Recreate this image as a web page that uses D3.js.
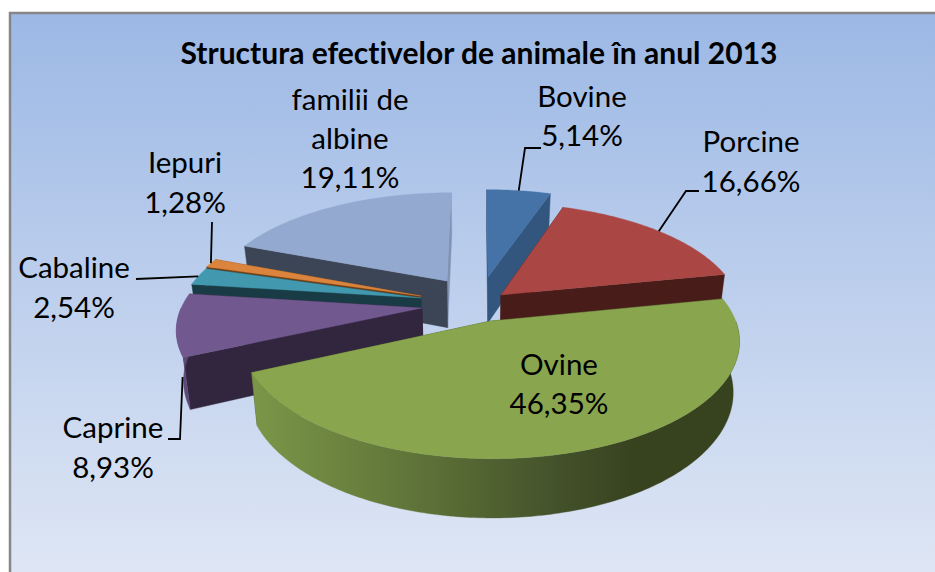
<!DOCTYPE html>
<html><head><meta charset="utf-8">
<script src="https://cdn.jsdelivr.net/npm/d3@7"></script>
<style>html,body{margin:0;padding:0;background:#fff}svg{display:block}text{font-family:Lato,"Open Sans",sans-serif;fill:#000;font-variant-ligatures:none}</style>
</head><body><div id="c"></div>
<script>
const title = "Structura efectivelor de animale în anul 2013";
const categories = ["Bovine","Porcine","Ovine","Caprine","Cabaline","Iepuri","familii de albine"];
const values = [5.14,16.66,46.35,8.93,2.54,1.28,19.11];
const topColors = ["#4572A7","#AA4643","#89A54E","#71588F","#4198AF","#DB843D","#93A9CF"];
const sideColors = ["#33567f","#471c19","#3b4821","#32263f","#193b45","#6b3d14","#3c4556"];
const outerColors = ["#33567f","#7d3431","url(#ovineWall)","#5e4a78","#2f7183","#a8652d","#8093b5"];
const endWallColors = ["#33567f","#471c19","#3b4821","#32263f","#193b45","#7a4716","#8093b5"];
// how far each slice is pulled out of the pie, in units of the pie radius
const pullRight = [0.0435,0.097,0.05,-0.2325,-0.24,-0.241,-0.134];
const pullBack = [0.2205,0.0467,-0.1895,-0.073,0.0186,0.0372,0.1808];
const paintOrder = [0,6,1,5,4,3,2];

const W=935,H=572;
const svg=d3.select("#c").append("svg").attr("width",W).attr("height",H);
const defs=svg.append("defs");
const bg=defs.append("linearGradient").attr("id","bg").attr("x1",0).attr("y1",0).attr("x2",0).attr("y2",1);
bg.append("stop").attr("offset",0).attr("stop-color","#9cb8e5");
bg.append("stop").attr("offset",1).attr("stop-color","#e1e8f5");
const wall=defs.append("linearGradient").attr("id","ovineWall").attr("gradientUnits","userSpaceOnUse")
  .attr("x1",253).attr("y1",0).attr("x2",741).attr("y2",0);
[[0,"#7b9648"],[0.32,"#607539"],[0.64,"#42502a"],[0.78,"#37431f"],[1,"#37431f"]]
  .forEach(([o,c])=>wall.append("stop").attr("offset",o).attr("stop-color",c));

svg.append("rect").attr("x",10).attr("y",13).attr("width",W+10).attr("height",H+10)
  .attr("fill","url(#bg)").attr("stroke","#868686").attr("stroke-width",2.5);

svg.append("text").attr("x",479).attr("y",64).attr("text-anchor","middle")
  .attr("font-size",30).attr("font-weight",700).text(title);

// plane-to-screen projection with perspective
const sx=d3.scaleLinear().domain([0,1]).range([478,716]);
const sy=d3.scaleLinear().domain([0,1]).range([300,192]);
const persp=0.16, thick=48, shrink=0.024;
function proj(u,v,low){
  const w=1+persp*v;
  let x=sx(u/w), y=sy(v/w);
  if(low){ x=x+(sx(0)-x)*shrink; y+=thick/w; }
  return [x,y];
}
const arcs=d3.pie().sort(null).startAngle(0).endAngle(2*Math.PI)(values);
const line=d3.line();
function ptAt(i,theta,r,low){
  return proj(pullRight[i]+r*Math.sin(theta),pullBack[i]+r*Math.cos(theta),low);
}
function thetas(i,lo,hi){
  const a=arcs[i],s=Math.max(a.startAngle,lo),e=Math.min(a.endAngle,hi);
  if(e<=s) return [];
  const n=Math.max(4,Math.ceil((e-s)/0.015));
  return d3.range(n+1).map(k=>s+(e-s)*k/n);
}
const mid=i=>(arcs[i].startAngle+arcs[i].endAngle)/2;
const pie=svg.append("g");
paintOrder.forEach(i=>{
  const g=pie.append("g").attr("class","slice");
  const all=thetas(i,0,2*Math.PI);
  const top=all.map(t=>ptAt(i,t,1,false)), bot=all.map(t=>ptAt(i,t,1,true));
  const c=ptAt(i,0,0,false), cl=ptAt(i,0,0,true);
  const face=(pts,fill)=>g.append("path").attr("d",line(pts)+"Z").attr("fill",fill).attr("stroke",fill).attr("stroke-width",0.4);
  const startWall=()=>face([c,top[0],bot[0],cl],sideColors[i]);
  const endWall=()=>face([c,top[top.length-1],bot[bot.length-1],cl],endWallColors[i]);
  if(mid(i)>Math.PI){endWall();startWall();}else{startWall();endWall();}
  // only the front half of the rim wall faces the viewer
  const front=thetas(i,Math.PI/2,3*Math.PI/2);
  if(front.length) face(front.map(t=>ptAt(i,t,1,false)).concat(front.slice().reverse().map(t=>ptAt(i,t,1,true))),outerColors[i]);
  face([c].concat(top),topColors[i]);
});

const pct=d3.formatLocale({decimal:",",thousands:".",grouping:[3],currency:["",""]}).format(".2f");
const fs=29.5;
const labels=[
 {i:0,x:582,y:[107,146],lines:["Bovine"]},
 {i:1,x:751,y:[152,192],lines:["Porcine"]},
 {i:2,x:559,y:[375,414],lines:["Ovine"]},
 {i:3,x:113,y:[438,478],lines:["Caprine"]},
 {i:4,x:74,y:[278,318],lines:["Cabaline"]},
 {i:5,x:185,y:[173,213],lines:["Iepuri"]},
 {i:6,x:350,y:[110,149,188],lines:["familii de","albine"]}
];
labels.forEach(l=>{
  l.lines.concat([pct(values[l.i])+"%"]).forEach((t,k)=>
    svg.append("text").attr("x",l.x).attr("y",l.y[k]).attr("text-anchor","middle").attr("font-size",fs).text(t));
});
const leaders=[
 {i:0,start:[[541,148],[525,148]]},
 {i:1,start:[[699,191],[686,191]]},
 {i:3,start:[[168,439],[180,439]],low:true},
 {i:4,start:[[136,279]]},
 {i:5,start:[[212,222]]}
];
leaders.forEach(d=>{
  const e=ptAt(d.i,mid(d.i),1,false);
  if(d.low){e[1]+=52;e[0]+=6;}
  svg.append("path").attr("d",line(d.start.concat([e]))).attr("fill","none").attr("stroke","#000").attr("stroke-width",1.8);
});
</script></body></html>
